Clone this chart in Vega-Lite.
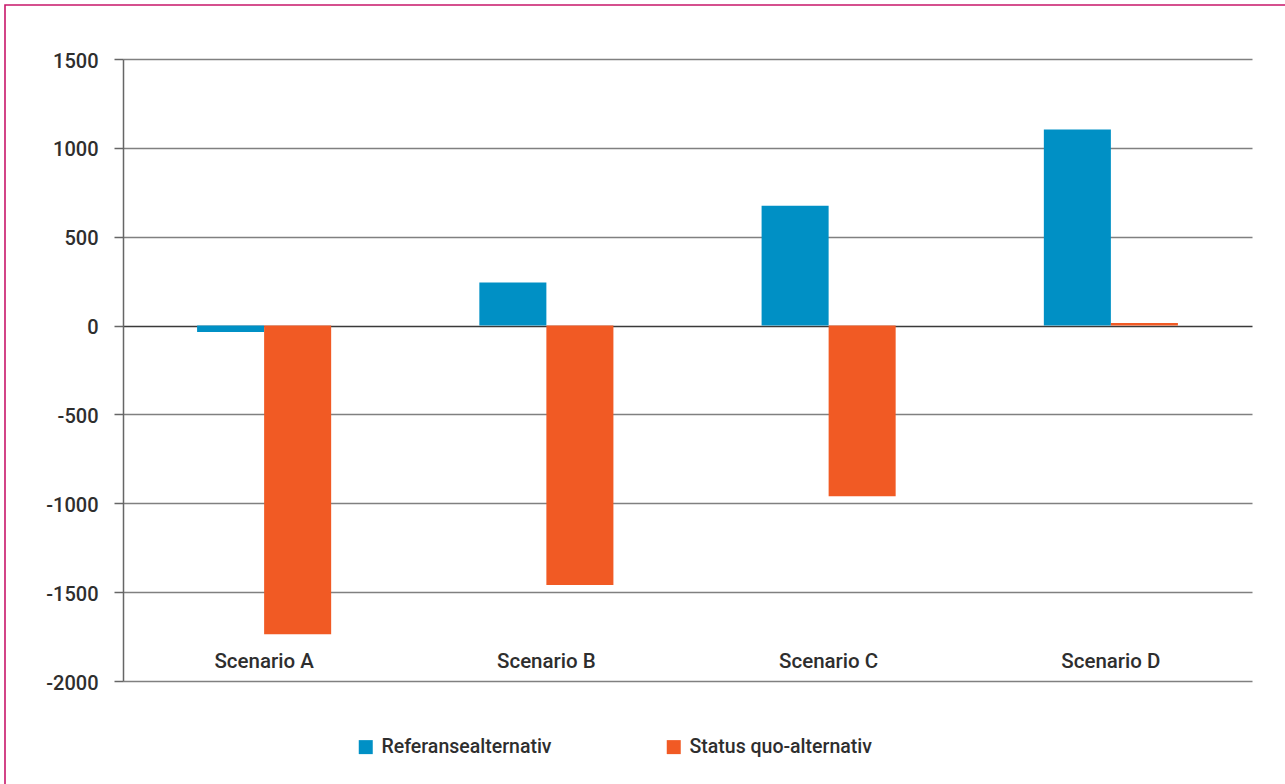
{
  "$schema": "https://vega.github.io/schema/vega-lite/v6.json",
  "width": 1280,
  "height": 779,
  "autosize": {"type": "none"},
  "padding": {"left": 5, "top": 5, "right": 0, "bottom": 0},
  "background": "white",
  "data": {
    "values": [
      {"scenario": "Scenario A", "series": "Referansealternativ", "value": -36},
      {"scenario": "Scenario A", "series": "Status quo-alternativ", "value": -1737},
      {"scenario": "Scenario B", "series": "Referansealternativ", "value": 243},
      {"scenario": "Scenario B", "series": "Status quo-alternativ", "value": -1460},
      {"scenario": "Scenario C", "series": "Referansealternativ", "value": 674},
      {"scenario": "Scenario C", "series": "Status quo-alternativ", "value": -960},
      {"scenario": "Scenario D", "series": "Referansealternativ", "value": 1103},
      {"scenario": "Scenario D", "series": "Status quo-alternativ", "value": 14}
    ]
  },
  "mark": {"type": "bar"},
  "encoding": {
    "x": {
      "field": "scenario",
      "type": "nominal",
      "sort": null,
      "scale": {"range": [118, 1247], "paddingInner": 0.525, "paddingOuter": 0.2625},
      "axis": {
        "title": null,
        "orient": "bottom",
        "offset": -103,
        "domain": false,
        "ticks": false,
        "tickSize": 0,
        "grid": false,
        "labelPadding": -20,
        "labelBaseline": "middle",
        "labelAngle": 0,
        "labelFont": "Roboto",
        "labelFontSize": 20.5,
        "labelFontWeight": 500,
        "labelColor": "#2e2e2e"
      }
    },
    "xOffset": {"field": "series", "type": "nominal", "sort": null},
    "y": {
      "field": "value",
      "type": "quantitative",
      "scale": {"domain": [-2000, 1500], "range": [676, 54], "nice": false},
      "axis": {
        "title": null,
        "orient": "left",
        "offset": -118,
        "values": [-2000, -1500, -1000, -500, 0, 500, 1000, 1500],
        "labelExpr": "datum.value + ''",
        "tickSize": 9,
        "tickColor": "#666666",
        "tickWidth": 1.5,
        "domainColor": "#666666",
        "domainWidth": 1.5,
        "labelPadding": 16,
        "labelOffset": 2,
        "labelFont": "Roboto",
        "labelFontSize": 20,
        "labelFontWeight": 500,
        "labelColor": "#2e2e2e",
        "grid": true,
        "gridColor": {"condition": {"test": "datum.value === 0", "value": "#3a3a3a"}, "value": "#808080"},
        "gridWidth": 1.5
      }
    },
    "color": {
      "field": "series",
      "type": "nominal",
      "sort": null,
      "scale": {"domain": ["Referansealternativ", "Status quo-alternativ"], "range": ["#0090c5", "#f15a24"]},
      "legend": {
        "title": null,
        "orient": "none",
        "legendX": 351,
        "legendY": 732,
        "direction": "horizontal",
        "symbolType": "square",
        "symbolSize": 196,
        "symbolStrokeWidth": 0,
        "symbolOpacity": 1,
        "labelFont": "Roboto",
        "labelFontSize": 19.5,
        "labelFontWeight": 500,
        "labelColor": "#2e2e2e",
        "labelLimit": 400,
        "labelOffset": 6,
        "columnPadding": 112,
        "padding": 0
      }
    }
  },
  "config": {
    "view": {"stroke": "#c8176a", "strokeWidth": 1.6, "strokeDash": [1280, 2059, 779]}
  }
}
